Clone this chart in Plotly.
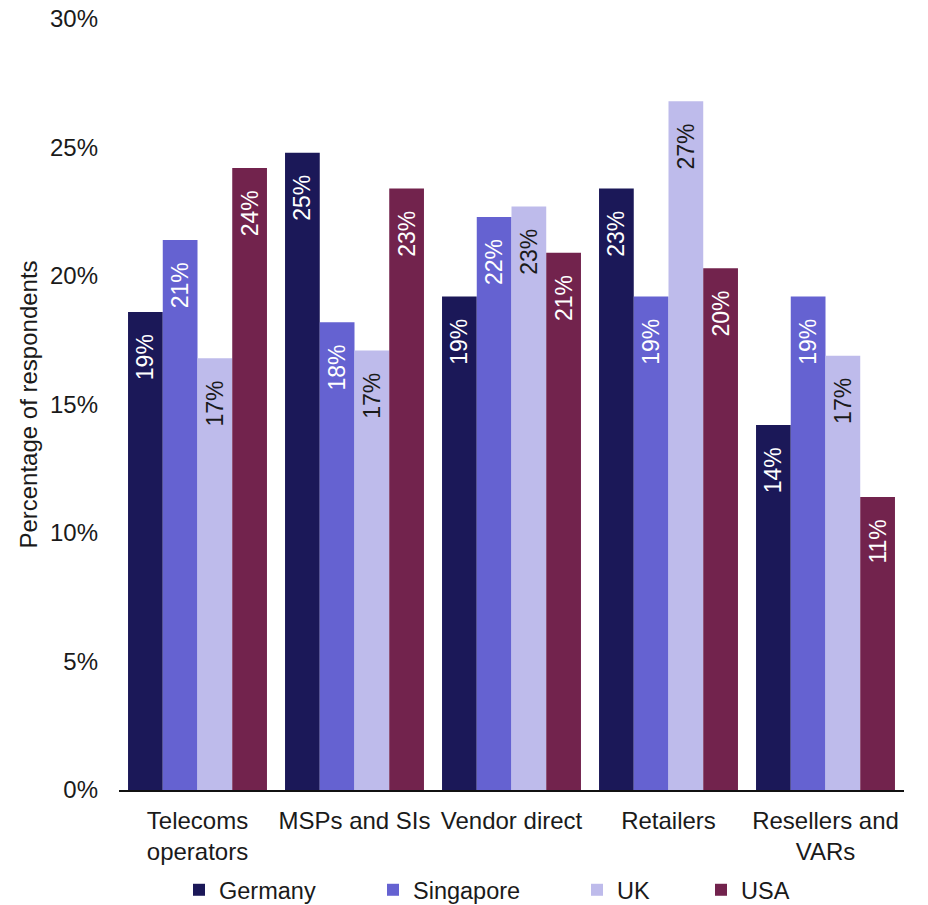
import plotly.graph_objects as go

categories = ["Telecoms<br>operators", "MSPs and SIs", "Vendor direct", "Retailers", "Resellers and<br>VARs"]
series_names = ["Germany", "Singapore", "UK", "USA"]
germany = [18.6, 24.8, 19.2, 23.4, 14.2]
singapore = [21.4, 18.2, 22.3, 19.2, 19.2]
uk = [16.8, 17.1, 22.7, 26.8, 16.9]
usa = [24.2, 23.4, 20.9, 20.3, 11.4]
y_ticks = [0, 5, 10, 15, 20, 25, 30]
y_tick_labels = ["0%", "5%", "10%", "15%", "20%", "25%", "30%"]

series_values = [germany, singapore, uk, usa]
colors = ["#1B1858", "#6562D1", "#BEBBEB", "#72234D"]
label_colors = ["white", "white", "#1a1a1a", "white"]
legend_ids = ["legend", "legend2", "legend3", "legend4"]
legend_x_px = [179, 373, 577, 701]

FONT = "Liberation Sans, Arial, sans-serif"
W, H = 928, 905

fig = go.Figure()
for name, vals, col, lc, lid in zip(series_names, series_values, colors, label_colors, legend_ids):
    fig.add_trace(go.Bar(
        name=name,
        x=categories,
        y=vals,
        marker=dict(color=col, line=dict(width=0)),
        texttemplate="%{y:.0f}%\u00a0\u00a0\u00a0",
        textposition="inside",
        insidetextanchor="end",
        textangle=-90,
        constraintext="none",
        textfont=dict(family=FONT, size=23, color=lc),
        legend=lid,
        hoverinfo="skip",
    ))

layout_legends = {}
for lid, lx in zip(legend_ids, legend_x_px):
    layout_legends[lid] = dict(
        xref="container", yref="container",
        x=lx / W, xanchor="left", y=(H - 890) / H, yanchor="middle",
        orientation="h", bgcolor="rgba(0,0,0,0)",
        font=dict(family=FONT, size=23.5, color="#1a1a1a"),
        itemclick=False, itemdoubleclick=False,
    )

fig.update_layout(
    width=W, height=H,
    margin=dict(l=119, r=24, t=19, b=115),
    paper_bgcolor="white", plot_bgcolor="white",
    barmode="group", bargap=0.115, bargroupgap=0,
    showlegend=True,
    font=dict(family=FONT, size=24, color="#1a1a1a"),
    xaxis=dict(
        showline=True, linecolor="#111111", linewidth=2,
        ticks="", showgrid=False, zeroline=False, automargin=False,
        ticklabelstandoff=8,
        tickfont=dict(family=FONT, size=24, color="#1a1a1a"),
    ),
    yaxis=dict(
        range=[0, 30], tickvals=y_ticks, ticktext=y_tick_labels,
        showline=False, showgrid=False, zeroline=False, ticks="",
        automargin=False, ticklabelstandoff=20,
        tickfont=dict(family=FONT, size=24, color="#1a1a1a"),
        title=dict(text="Percentage of respondents", standoff=5,
                   font=dict(family=FONT, size=24, color="#1a1a1a")),
    ),
    **layout_legends,
)

fig.write_html("out.html")
